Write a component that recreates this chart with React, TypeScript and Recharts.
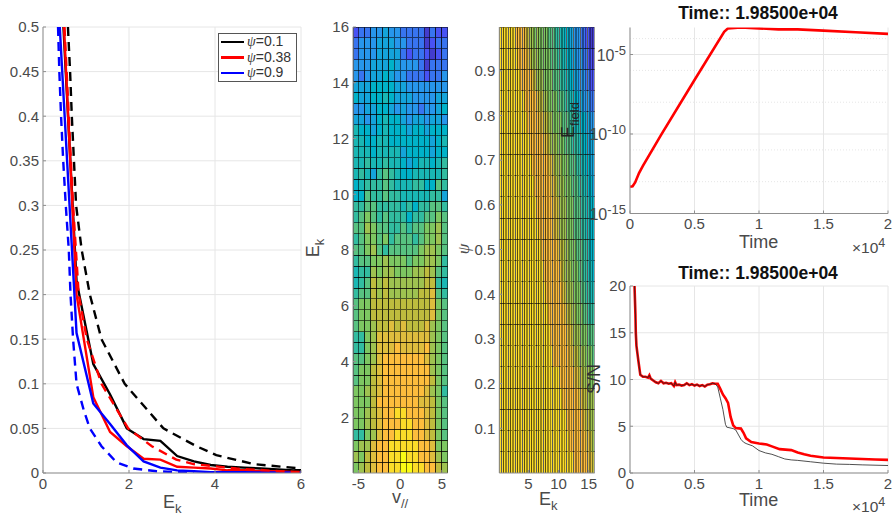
import React from 'react'
import { BarChart, Bar, Cell, LineChart, Line, XAxis, YAxis, CartesianGrid, Legend } from 'recharts'

// left panel: distribution vs energy, solid = one run, dashed = the other
const EK_SOLID = [0.39, 0.78, 1.17, 1.56, 1.95, 2.34, 2.73, 3.12, 3.51, 3.9, 4.29, 4.68, 5.07, 5.46, 5.85, 6.24]
const BLACK_SOLID = [0.58, 0.215, 0.122, 0.088, 0.05, 0.038, 0.036, 0.019, 0.013, 0.009, 0.007, 0.006, 0.005, 0.004, 0.003, 0.003]
const RED_SOLID = [0.6, 0.2, 0.085, 0.046, 0.03, 0.016, 0.015, 0.007, 0.006, 0.005, 0.003, 0.003, 0.002, 0.002, 0.001, 0.001]
const BLUE_SOLID = [0.5, 0.157, 0.078, 0.055, 0.031, 0.013, 0.006, 0.003, 0.002, 0.001, 0.001, 0.001, 0.0005, 0.0005, 0.0005, 0.0005]

const EK_BLACK_DASH = [0.58, 0.63, 0.67, 0.72, 0.77, 0.9, 1.09, 1.36, 1.9, 2.8, 3.57, 4.03, 4.9, 6]
const BLACK_DASH = [0.5, 0.45, 0.4, 0.35, 0.3, 0.25, 0.2, 0.15, 0.1, 0.05, 0.03, 0.02, 0.01, 0.005]
const EK_RED_DASH = [0.5, 0.7, 0.83, 1.02, 1.36, 1.98, 2.53, 3.1, 3.5, 4.5, 5.5, 6]
const RED_DASH = [0.5, 0.3, 0.2, 0.15, 0.1, 0.05, 0.03, 0.015, 0.01, 0.005, 0.002, 0.001]
const EK_BLUE_DASH = [0.35, 0.38, 0.42, 0.47, 0.53, 0.6, 0.64, 0.7, 0.78, 0.95, 1.09, 1.36, 1.71, 2.1, 2.64, 3.5]
const BLUE_DASH = [0.5, 0.45, 0.4, 0.35, 0.3, 0.25, 0.2, 0.15, 0.1, 0.07, 0.05, 0.03, 0.012, 0.005, 0.002, 0]

// heatmap levels, one char per cell, 0..g along the colormap, top row first
const V_CELLS = [-5.3, -4.6, -3.9, -3.1, -2.4, -1.7, -1, -0.3, 0.4, 1.1, 1.8, 2.5, 3.2, 3.9, 4.6, 5.3]
const EK_BIN = 16 / 41
const VE_LEVELS = [
  '2334454433331322', '3444555443331233', '3444555532332123', '4445556544431333', '4345565443332334',
  '5556666554444444', '6556676555444455', '4455665454434456', '5545676654554554', '7665676665665666',
  '7766776666666567', '7776777756666566', '7787787765677678', '7875898766777778', '6788898777886698',
  '6698898877777885', '8899888878688998', '89a98988868899a9', '99ba99889899aab9', '89aa9a899989aab9',
  '99ab9899999abba9', '899aabaaa9aabba8', '788babbaaabbcb98', '789cbcbbbbbbcc87', '899cbcbbbbbccd98',
  '9aaccccccccccda9', '9aaccccccccccda9', '9aabccdcdcccdba9', '88abdddddddddba9', '88abdddeddddeba9',
  '99abdeeeeeeedba9', '9aacdeeeeeeeeba9', '9aacdeeeeeeeeca9', 'aabcdeeeeeeedba8', 'aaaceeeeeeeddca9',
  'aabcdeeffeeedca9', 'aabcdeeeffeedca9', '88abdeefffeedca9', 'abbdeefffffeedaa', 'bacdeeffgffeedba',
  'abcdeeffggffeecb',
]

const PSI_BIN = 0.998 / 21
const PSI_LEVELS = [
  'fffffffeeeedcbbabaaaa99988776655444332211',
  'ffffffffeeeedcbbbaaaaa9998877665544433221',
  'fffffffffeeeeedcbbbaaaa999887766554443322',
  'fffffffffffeeeeedccbbaaaa9998877665544433',
  'ffffffffffffeeeeeddccbbaaaa99988777665544',
  'fffffffffffffeeeeeeddcbbbaaa9998887766555',
  'ffffffffffffffeeeeeeeddcbbbaaa99988776655',
  'fffffffffffffffeeeeeeeddcbbbaaa9998877665',
  'ffffffffffffffffeeeeeeeddcbbbaaa999887766',
  'fffffffffffffffffeeeeeeddcbbbaaa999887766',
  'ffffffffffffffffffeeeeeeedccbbaaa99988766',
  'fffffffffffffffffffeeeeeeedcbbbaaa9988776',
  'ffffffffffffffffffffeeeeeeedcbbbaaa998877',
  'fffffffffffffffffffffeeeeeeedccbbaaa99888',
  'ffffffffffffffffffffffeeeeeeeddcbbbaaa999',
  'fffffffffffffffffffffffeeeeeeeddccbbbaaa9',
  'ffffffffffffffffffffffffffeeeeeeddccbbbaa',
  'fffffffffffffffffffffffffffeeeeeeeddccbbb',
  'fffffffffffffffffffffffffffffeeeeeeedccbb',
  'ffffffffffffffffffffffffffffffeeeeeeeddcb',
  'ffffffffffffffffffffffffffffffffeeeeeeddc',
]

// field energy vs time
const FIELD_T = [0, 200, 400, 700, 1000, 2400, 5000, 7300, 7600, 8600, 10000, 11500, 13000, 15000, 17500, 20000]
const FIELD_E = [4.8e-14, 5.2e-14, 9e-14, 3.5e-13, 1e-12, 8.5e-11, 2.5e-7, 2.7e-4, 4.4e-4, 5e-4, 4.4e-4, 3.8e-4, 3.8e-4, 3.2e-4, 2.5e-4, 2e-4]
const DECADES_MINOR = [1e-14, 1e-13, 1e-12, 1e-11, 1e-9, 1e-8, 1e-7, 1e-6, 1e-4]
const DECADES_MAJOR = [1e-15, 1e-10, 1e-5]

// signal to noise vs time, the two runs share the early part
const SN_T_EARLY = [350, 420, 450, 500, 650, 800, 1000, 1200, 1400, 1500, 1600, 1800, 2000, 2200, 2400, 2600, 2800, 3000, 3200, 3400, 3500, 3600, 3800, 4000, 4200, 4400, 4600, 4800, 5000, 5200, 5400, 5600, 5800, 6000, 6200, 6400, 6600]
const SN_EARLY = [20, 17, 15, 13.6, 12, 10.5, 10.3, 10.3, 10.2, 10.45, 10.1, 9.9, 9.7, 9.6, 9.85, 9.6, 9.65, 9.55, 9.6, 9.3, 9.7, 9.4, 9.45, 9.35, 9.4, 9.6, 9.4, 9.5, 9.35, 9.45, 9.3, 9.4, 9.25, 9.45, 9.5, 9.6, 9.55]
const SN_T_RED = [6800, 7000, 7200, 7400, 7600, 7800, 8000, 8200, 8600, 8800, 9000, 9400, 10000, 10600, 11000, 11600, 12500, 13000, 13500, 14000, 15000, 16000, 17000, 18000, 19000, 20000]
const SN_RED = [9.55, 9, 8.4, 8, 7.5, 6, 5.1, 4.8, 4.75, 4.3, 3.7, 3.3, 3.15, 3.05, 2.85, 2.55, 2.45, 2.2, 2, 1.85, 1.65, 1.6, 1.55, 1.5, 1.45, 1.4]
const SN_T_BLACK = [6800, 7000, 7200, 7400, 7500, 8000, 8200, 8600, 8800, 9000, 9500, 10000, 10500, 11000, 11500, 12000, 12500, 13000, 14000, 15000, 16000, 17000, 18000, 20000]
const SN_BLACK = [9.2, 8, 6.8, 5.2, 4.9, 4.75, 4.6, 3.6, 3.3, 3.15, 2.9, 2.4, 2.15, 2, 1.75, 1.5, 1.4, 1.35, 1.2, 1.05, 0.95, 0.92, 0.87, 0.8]

const PARULA = [
  [62, 38, 168], [72, 82, 244], [39, 150, 235], [0, 178, 200], [50, 188, 160],
  [125, 199, 97], [190, 188, 62], [253, 189, 61], [249, 251, 21],
]
const levelColor = (c: string) => {
  const t = (parseInt(c, 17) / 16) * (PARULA.length - 1)
  const i = Math.min(Math.floor(t), PARULA.length - 2)
  const f = t - i
  const rgb = PARULA[i].map((a, k) => Math.round(a + (PARULA[i + 1][k] - a) * f))
  return `rgb(${rgb.join(',')})`
}

const pairs = (xs: number[], ys: number[]) => xs.map((x, i) => ({ x, y: ys[i] }))

const FONT = '"Liberation Sans", Arial, sans-serif'
const INK = '#4a4a4a'
const AXIS = '#8f8f8f'
const GRID = '#e6e6e6'
const tickStyle = { fontSize: 15, fill: INK, fontFamily: FONT }
const noLabel = () => ''

const marginFor = (x0: number, x1: number, y0: number, y1: number, yw: number, xh: number) => ({
  left: x0 - yw, right: 894 - x1, top: y0, bottom: 517 - y1 - xh,
})

const Layer = ({ children }: { children: React.ReactNode }) => (
  <div style={{ position: 'absolute', left: 0, top: 0, width: 894, height: 517 }}>{children}</div>
)

const SubLabel = ({ x, y, main, sub, size = 18 }: { x: number; y: number; main: string; sub: string; size?: number }) => (
  <text x={x} y={y} fontFamily={FONT} fontSize={size} fill={INK}>
    {main}
    <tspan dy={5} fontSize={size - 5}>{sub}</tspan>
  </text>
)

const RotLabel = ({ x, y, main, sub, size = 18, fill = INK }: { x: number; y: number; main: string; sub?: string; size?: number; fill?: string }) => (
  <text transform={`rotate(-90 ${x} ${y})`} x={x} y={y} textAnchor="middle" fontFamily={FONT} fontSize={size} fill={fill}>
    {main}
    {sub && <tspan dy={5} fontSize={size - 5}>{sub}</tspan>}
  </text>
)

const Title = ({ y }: { y: number }) => (
  <text x={758} y={y} textAnchor="middle" fontFamily={FONT} fontSize={17.5} fontWeight="bold" fill="#111">
    Time:: 1.98500e+04
  </text>
)

const Times = ({ y }: { y: number }) => (
  <text x={852} y={y} fontFamily={FONT} fontSize={15.5} fill={INK}>
    ×10<tspan dy={-6} fontSize={12.5}>4</tspan>
  </text>
)

const PowerTick = ({ x, y, payload }: any) => (
  <text x={x - 5} y={y + 6} textAnchor="end" fontFamily={FONT} fontSize={16} fill={INK}>
    10<tspan dy={-6} fontSize={13}>{Math.round(Math.log10(payload.value))}</tspan>
  </text>
)

const LegendBox = ({ payload }: any) => (
  <div style={{ border: '1px solid #555', background: '#fff', width: 75, height: 47, padding: '0 0 0 2px', boxSizing: 'content-box' }}>
    {(payload || []).filter((p: any) => p.type !== 'none').map((p: any) => (
      <div key={p.value} style={{ display: 'flex', alignItems: 'center', height: 15.6 }}>
        <span style={{ display: 'inline-block', width: 23, height: 2.5, background: p.color, marginRight: 3 }} />
        <span style={{ fontFamily: FONT, fontSize: 14, color: '#333', whiteSpace: 'nowrap' }}>
          <i style={{ fontFamily: '"Liberation Serif", serif' }}>ψ</i>={p.value}
        </span>
      </div>
    ))}
  </div>
)

const EK_X = [0, 2, 4, 6]
const DIST_Y = [0, 0.05, 0.1, 0.15, 0.2, 0.25, 0.3, 0.35, 0.4, 0.45, 0.5]
const TIME_X = [0, 5000, 10000, 15000, 20000]
const SN_Y = [0, 5, 10, 15, 20]
const fmtTime = (v: number) => String(v / 10000)

function DistPanel() {
  return (
    <LineChart width={894} height={517} margin={marginFor(43, 301, 27, 473, 40, 30)}>
      <CartesianGrid stroke={GRID} />
      <XAxis dataKey="x" type="number" domain={[0, 6]} ticks={EK_X} allowDataOverflow stroke={AXIS} tick={tickStyle} tickSize={-3} tickMargin={8} height={30} />
      <YAxis type="number" domain={[0, 0.5]} ticks={DIST_Y} allowDataOverflow stroke={AXIS} tick={tickStyle} tickSize={-3} tickMargin={7} width={40} />
      <XAxis xAxisId="top" orientation="top" type="number" domain={[0, 6]} ticks={EK_X} stroke={AXIS} tickSize={-3} tickFormatter={noLabel} height={0} />
      <YAxis yAxisId="right" orientation="right" type="number" domain={[0, 0.5]} ticks={DIST_Y} stroke={AXIS} tickSize={-3} tickFormatter={noLabel} width={0} />
      <Line data={pairs(EK_SOLID, BLACK_SOLID)} dataKey="y" name="0.1" stroke="#000" strokeWidth={2.4} dot={false} isAnimationActive={false} />
      <Line data={pairs(EK_SOLID, RED_SOLID)} dataKey="y" name="0.38" stroke="#f00" strokeWidth={2.4} dot={false} isAnimationActive={false} />
      <Line data={pairs(EK_SOLID, BLUE_SOLID)} dataKey="y" name="0.9" stroke="#00f" strokeWidth={2.4} dot={false} isAnimationActive={false} />
      <Line data={pairs(EK_BLACK_DASH, BLACK_DASH)} dataKey="y" legendType="none" stroke="#000" strokeWidth={2.4} strokeDasharray="9 6" dot={false} isAnimationActive={false} />
      <Line data={pairs(EK_RED_DASH, RED_DASH)} dataKey="y" legendType="none" stroke="#f00" strokeWidth={2.4} strokeDasharray="9 6" dot={false} isAnimationActive={false} />
      <Line data={pairs(EK_BLUE_DASH, BLUE_DASH)} dataKey="y" legendType="none" stroke="#00f" strokeWidth={2.4} strokeDasharray="9 6" dot={false} isAnimationActive={false} />
      <Legend layout="vertical" align="center" verticalAlign="middle" content={LegendBox} wrapperStyle={{ left: 218, top: 33, width: 77, height: 49 }} />
      <SubLabel x={163} y={508} main="E" sub="k" />
    </LineChart>
  )
}

function Heatmap({ rows, cols, bin, xDomain, xTicks, yDomain, yTicks, x0, x1, edge }: any) {
  const table = cols.map((c: number) => {
    const entry: Record<string, number> = { c }
    rows.forEach((_: string, r: number) => { entry[`r${r}`] = bin })
    return entry
  })
  const bottomUp = rows.map((_: string, r: number) => rows.length - 1 - r)
  return (
    <BarChart width={894} height={517} data={table} barCategoryGap={0} margin={marginFor(x0, x1, 27, 473, 40, 30)}>
      <XAxis xAxisId="cells" dataKey="c" type="category" hide height={0} />
      <XAxis xAxisId="val" dataKey="c" type="number" domain={xDomain} ticks={xTicks} allowDataOverflow stroke={AXIS} tick={tickStyle} tickSize={-3} tickMargin={8} height={30} />
      <YAxis type="number" domain={yDomain} ticks={yTicks} allowDataOverflow stroke={AXIS} tick={tickStyle} tickSize={-3} tickMargin={7} width={40} />
      {bottomUp.map((r: number) => (
        <Bar key={r} xAxisId="cells" dataKey={`r${r}`} stackId="cells" isAnimationActive={false}>
          {cols.map((c: number, i: number) => (
            <Cell key={c} fill={levelColor(rows[r][i])} stroke="#000" strokeOpacity={edge.opacity} strokeWidth={1} shapeRendering="crispEdges" />
          ))}
        </Bar>
      ))}
    </BarChart>
  )
}

function FieldPanel() {
  return (
    <LineChart width={894} height={517} margin={marginFor(630, 888, 27.5, 213.5, 40, 30)}>
      <CartesianGrid stroke={GRID} strokeDasharray="1 2" horizontalValues={DECADES_MINOR} vertical={false} />
      <CartesianGrid stroke={GRID} horizontalValues={DECADES_MAJOR} verticalValues={TIME_X} />
      <XAxis dataKey="x" type="number" domain={[0, 20000]} ticks={TIME_X} tickFormatter={fmtTime} allowDataOverflow stroke={AXIS} tick={tickStyle} tickSize={-3} tickMargin={8} height={30} />
      <YAxis type="number" scale="log" domain={[1e-15, 5e-4]} ticks={DECADES_MAJOR} allowDataOverflow stroke={AXIS} tick={PowerTick} tickSize={-3} width={40} />
      <XAxis xAxisId="top" orientation="top" type="number" domain={[0, 20000]} ticks={TIME_X} stroke={AXIS} tickSize={-3} tickFormatter={noLabel} height={0} />
      <YAxis yAxisId="right" orientation="right" type="number" scale="log" domain={[1e-15, 5e-4]} ticks={DECADES_MAJOR} stroke={AXIS} tickSize={-3} tickFormatter={noLabel} width={0} />
      <Line data={pairs(FIELD_T, FIELD_E)} dataKey="y" stroke="#f00" strokeWidth={2.6} dot={false} isAnimationActive={false} />
      <RotLabel x={574} y={120} main="E" sub="field" fill="#222" />
      <Title y={19} />
      <text x={739} y={248} fontFamily={FONT} fontSize={18} fill={INK}>Time</text>
      <Times y={253} />
    </LineChart>
  )
}

function SnPanel() {
  return (
    <LineChart width={894} height={517} margin={marginFor(630, 888, 286, 473, 40, 30)}>
      <CartesianGrid stroke={GRID} />
      <XAxis dataKey="x" type="number" domain={[0, 20000]} ticks={TIME_X} tickFormatter={fmtTime} allowDataOverflow stroke={AXIS} tick={tickStyle} tickSize={-3} tickMargin={8} height={30} />
      <YAxis type="number" domain={[0, 20]} ticks={SN_Y} allowDataOverflow stroke={AXIS} tick={tickStyle} tickSize={-3} tickMargin={7} width={40} />
      <XAxis xAxisId="top" orientation="top" type="number" domain={[0, 20000]} ticks={TIME_X} stroke={AXIS} tickSize={-3} tickFormatter={noLabel} height={0} />
      <YAxis yAxisId="right" orientation="right" type="number" domain={[0, 20]} ticks={SN_Y} stroke={AXIS} tickSize={-3} tickFormatter={noLabel} width={0} />
      <Line data={pairs([...SN_T_EARLY, ...SN_T_RED], [...SN_EARLY, ...SN_RED])} dataKey="y" stroke="#f00" strokeWidth={2.6} dot={false} isAnimationActive={false} />
      <Line data={pairs([...SN_T_EARLY, ...SN_T_BLACK], [...SN_EARLY, ...SN_BLACK])} dataKey="y" stroke="#222" strokeWidth={0.8} dot={false} isAnimationActive={false} />
      <RotLabel x={600} y={379} main="S/N" fill="#333" />
      <Title y={279} />
      <text x={739} y={506} fontFamily={FONT} fontSize={18} fill={INK}>Time</text>
      <Times y={512} />
    </LineChart>
  )
}

export default function App() {
  return (
    <div style={{ position: 'absolute', left: 0, top: 0, width: 894, height: 517, background: '#fff', overflow: 'hidden' }}>
      <Layer><DistPanel /></Layer>
      <Layer>
        <Heatmap rows={VE_LEVELS} cols={V_CELLS} bin={EK_BIN} xDomain={[-5.65, 5.7]} xTicks={[-5, 0, 5]}
          yDomain={[0, 16]} yTicks={[2, 4, 6, 8, 10, 12, 14, 16]} x0={353} x1={447.7} edge={{ opacity: 0.55 }} />
      </Layer>
      <Layer>
        <Heatmap rows={PSI_LEVELS} cols={PSI_LEVELS[0].split('').map((_, i) => (i + 1) * EK_BIN)} bin={PSI_BIN} xDomain={[0.17, 16]} xTicks={[5, 10, 15]}
          yDomain={[0, 0.998]} yTicks={[0.1, 0.2, 0.3, 0.4, 0.5, 0.6, 0.7, 0.8, 0.9]} x0={499.3} x1={594.7} edge={{ opacity: 0.4 }} />
      </Layer>
      <Layer>
        <svg width={894} height={517} style={{ position: 'absolute', left: 0, top: 0 }}>
          <RotLabel x={319} y={248} main="E" sub="k" />
          <text transform="rotate(-90 469 249)" x={469} y={249} textAnchor="middle" fontFamily='"Liberation Serif", serif' fontStyle="italic" fontSize={17} fill={INK}>ψ</text>
          <SubLabel x={392} y={503} main="v" sub="//" />
          <SubLabel x={539} y={505} main="E" sub="k" />
        </svg>
      </Layer>
      <Layer><FieldPanel /></Layer>
      <Layer><SnPanel /></Layer>
    </div>
  )
}
